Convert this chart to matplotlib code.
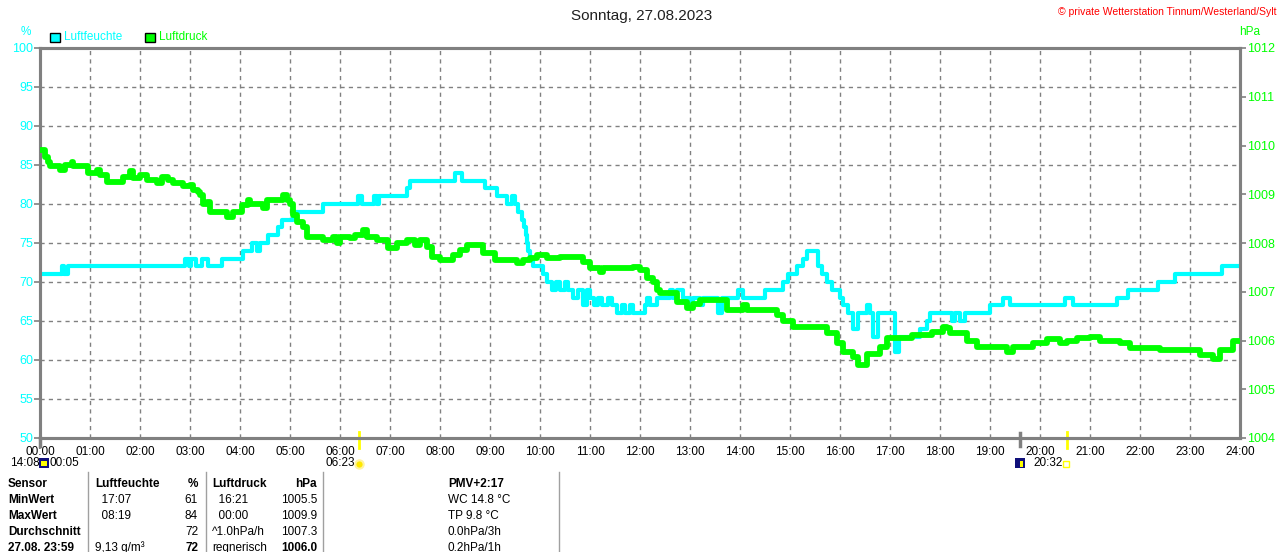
import matplotlib
matplotlib.use('Agg')
import matplotlib.pyplot as plt
import matplotlib.transforms as mtransforms
from matplotlib.patches import Rectangle

plt.rcParams['font.family'] = ['Liberation Sans', 'DejaVu Sans']

# Luftfeuchte: Stufen (Minute seit 00:00, Wert in %)
hum_min = [0, 26, 29, 34, 174, 179, 181, 187, 194, 202, 218, 244, 254, 260, 264, 274, 286, 290,
           304, 340, 382, 386, 401, 404, 407, 440, 444, 498, 506, 534, 548, 560, 566, 570, 574,
           578, 581, 583, 584, 586, 588, 592, 604, 608, 614, 619, 624, 630, 634, 640, 646, 652,
           656, 660, 665, 670, 674, 682, 686, 692, 698, 702, 708, 712, 726, 728, 732, 740, 756,
           760, 764, 772, 780, 784, 792, 796, 814, 818, 838, 844, 870, 892, 898, 908, 916, 920,
           934, 938, 944, 950, 960, 964, 970, 976, 982, 992, 996, 1000, 1006, 1026, 1031, 1056,
           1064, 1068, 1094, 1098, 1104, 1110, 1140, 1156, 1164, 1230, 1240, 1292, 1306, 1342,
           1362, 1418, 1440]
hum_val = [71, 72, 71, 72, 73, 72, 73, 72, 73, 72, 73, 74, 75, 74, 75, 76, 77, 78,
           79, 80, 81, 80, 81, 80, 81, 82, 83, 84, 83, 82, 81, 80, 81, 80, 79,
           78, 77, 76, 75, 74, 73, 72, 71, 70, 69, 70, 69, 70, 69, 68, 69, 67,
           69, 68, 67, 68, 67, 68, 67, 66, 67, 66, 67, 66, 67, 68, 67, 68, 69,
           68, 69, 68, 67, 68, 67, 68, 66, 68, 69, 68, 69, 70, 71, 72, 73, 74,
           72, 71, 70, 69, 68, 67, 66, 64, 66, 67, 66, 63, 66, 61, 63, 64,
           65, 66, 65, 66, 65, 66, 67, 68, 67, 68, 67, 68, 69, 70,
           71, 72, 72]

# Luftdruck (Minute seit 00:00, Wert in hPa)
pres_min = [0, 6, 10, 12, 24, 30, 38, 40, 58, 68, 72, 80, 100, 108, 112, 120, 128, 140, 146,
            154, 160, 172, 180, 184, 190, 192, 196, 200, 204, 224, 232, 242, 250, 252, 268,
            272, 292, 296, 300, 304, 308, 316, 320, 340, 352, 356, 360, 372, 378, 388, 392,
            404, 418, 428, 440, 450, 456, 464, 470, 480, 496, 504, 512, 532, 546, 572, 580,
            588, 596, 608, 624, 652, 660, 672, 676, 712, 720, 728, 736, 740, 744, 764, 776,
            784, 792, 824, 844, 848, 884, 892, 904, 944, 956, 964, 976, 982, 992, 1008, 1016,
            1046, 1070, 1084, 1088, 1092, 1112, 1124, 1160, 1168, 1192, 1208, 1224, 1232,
            1244, 1260, 1272, 1296, 1308, 1344, 1392, 1408, 1416, 1432, 1440]
pres_val = [1009.9, 1009.77, 1009.67, 1009.57, 1009.5, 1009.6, 1009.67, 1009.57, 1009.43,
            1009.5, 1009.4, 1009.26, 1009.36, 1009.47, 1009.33, 1009.4, 1009.3, 1009.23,
            1009.36, 1009.3, 1009.23, 1009.16, 1009.2, 1009.09, 1009.05, 1008.98, 1008.81,
            1008.85, 1008.64, 1008.54, 1008.64, 1008.78, 1008.88, 1008.8, 1008.71, 1008.88,
            1008.98, 1008.88, 1008.81, 1008.57, 1008.44, 1008.33, 1008.13, 1008.06, 1008.13,
            1007.99, 1008.13, 1008.1, 1008.16, 1008.26, 1008.13, 1008.06, 1007.89, 1008.0,
            1008.06, 1007.96, 1008.06, 1007.92, 1007.72, 1007.65, 1007.75, 1007.85, 1007.96,
            1007.79, 1007.65, 1007.58, 1007.65, 1007.69, 1007.75, 1007.69, 1007.72, 1007.62,
            1007.48, 1007.41, 1007.48, 1007.5, 1007.45, 1007.28, 1007.2, 1007.04, 1006.97,
            1006.8, 1006.66, 1006.75, 1006.83, 1006.63, 1006.73, 1006.63, 1006.52, 1006.39,
            1006.28, 1006.15, 1005.94, 1005.77, 1005.66, 1005.5, 1005.72, 1005.87, 1006.05,
            1006.11, 1006.18, 1006.28, 1006.25, 1006.15, 1005.98, 1005.87, 1005.77, 1005.87,
            1005.94, 1006.04, 1005.94, 1006.0, 1006.05, 1006.08, 1006.0, 1005.94, 1005.84,
            1005.8, 1005.7, 1005.63, 1005.8, 1006.0, 1006.0]

hour_labels = ['%02d:00' % h for h in range(25)]
hum_ticks = [50, 55, 60, 65, 70, 75, 80, 85, 90, 95, 100]
pres_ticks = [1004, 1005, 1006, 1007, 1008, 1009, 1010, 1011, 1012]

table_rows = [
    ['Sensor', 'MinWert', 'MaxWert', 'Durchschnitt', '27.08. 23:59'],
    ['Luftfeuchte', '  17:07', '  08:19', '', '9,13 g/m³'],
    ['%', '61', '84', '72', '72'],
    ['Luftdruck', '  16:21', '  00:00', '^1.0hPa/h', 'regnerisch'],
    ['hPa', '1005.5', '1009.9', '1007.3', '1006.0'],
    ['PMV+2:17', 'WC 14.8 °C', 'TP 9.8 °C', '0.0hPa/3h', '0.2hPa/1h'],
]

CYAN = '#00FFFF'
GREEN = '#00FF00'
GRAY = '#808080'
W, H = 1280, 552

fig = plt.figure(figsize=(W / 100, H / 100), dpi=100)
ax = fig.add_axes([40 / W, 1 - 438 / H, 1200 / W, 390 / H])
ax2 = ax.twinx()

ax.plot([m / 60 for m in hum_min], hum_val, color=CYAN, lw=3.0, drawstyle='steps-post',
        zorder=3, solid_capstyle='butt')
ax2.plot([m / 60 for m in pres_min], pres_val, color=GREEN, lw=4.2, drawstyle='steps-post',
         zorder=3, solid_capstyle='butt')

ax.set_xlim(0, 24)
ax.set_ylim(50, 100)
ax2.set_ylim(1004, 1012)
ax.set_xticks(range(25))
ax.set_xticklabels(hour_labels, fontsize=8.5, color='black')
ax.set_yticks(hum_ticks)
ax.set_yticklabels([str(v) for v in hum_ticks], fontsize=9, color=CYAN)
ax2.set_yticks(pres_ticks)
ax2.set_yticklabels([str(v) for v in pres_ticks], fontsize=9, color=GREEN)
ax.tick_params(axis='x', length=0, pad=6)
ax.tick_params(axis='y', length=4, width=1.2, color=GRAY, pad=1)
ax2.tick_params(axis='y', length=4, width=1.2, color=GRAY, pad=1)

ax.grid(True, color=GRAY, linestyle=(0, (3, 3)), lw=1)
ax.set_axisbelow(True)
for a in (ax, ax2):
    for s in a.spines.values():
        s.set_color(GRAY)
        s.set_linewidth(2.2)

# Markierungen an der Zeitachse
trans = mtransforms.blended_transform_factory(ax.transData, ax.transAxes)
ax.plot([0, 0], [0, -0.02], color=GRAY, lw=2.5, transform=trans, clip_on=False)
ax.plot([19.6, 19.6], [0.012, -0.02], color=GRAY, lw=2.5, transform=trans, clip_on=False)
ax.plot([6.383, 6.383], [0.015, -0.025], color='#FFFF00', lw=2, transform=trans, clip_on=False)
ax.plot([20.533, 20.533], [0.015, -0.025], color='#FFFF00', lw=2, transform=trans, clip_on=False)

def fx(x):
    return x / W

def fy(y):
    return 1 - y / H

# Titel und Beschriftungen
fig.text(fx(642), fy(16), 'Sonntag, 27.08.2023', ha='center', va='center', fontsize=11, color='#202020')
fig.text(fx(1277), fy(12), '© private Wetterstation Tinnum/Westerland/Sylt', ha='right', va='center',
         fontsize=7.5, color='#FF0000')
fig.text(fx(26), fy(32), '%', ha='center', va='center', fontsize=8.5, color=CYAN)
fig.text(fx(1250), fy(32), 'hPa', ha='center', va='center', fontsize=8.5, color=GREEN)

# Legende
fig.patches.append(Rectangle((fx(50), fy(42)), 10 / W, 9 / H, transform=fig.transFigure,
                             facecolor=CYAN, edgecolor='black', lw=1))
fig.text(fx(64), fy(37.5), 'Luftfeuchte', va='center', fontsize=8.5, color=CYAN)
fig.patches.append(Rectangle((fx(145), fy(42)), 10 / W, 9 / H, transform=fig.transFigure,
                             facecolor=GREEN, edgecolor='black', lw=1))
fig.text(fx(159), fy(37.5), 'Luftdruck', va='center', fontsize=8.5, color=GREEN)

# Mond / Sonne
fig.text(fx(10), fy(463), '14:08', va='center', fontsize=8.5)
fig.patches.append(Rectangle((fx(39), fy(468)), 10 / W, 10 / H, transform=fig.transFigure,
                             facecolor='#10107A', edgecolor='none'))
fig.patches.append(Rectangle((fx(41), fy(466)), 6 / W, 5 / H, transform=fig.transFigure,
                             facecolor='#FFFF00', edgecolor='none'))
fig.text(fx(50), fy(463), '00:05', va='center', fontsize=8.5)
fig.text(fx(325), fy(463), '06:23', va='center', fontsize=8.5)
fig.add_artist(plt.Line2D([fx(359)], [fy(464)], marker='o', markersize=6, color='#FFE800',
                          markeredgecolor='#FFF4A0', markeredgewidth=1.5))
fig.patches.append(Rectangle((fx(1015), fy(468)), 10 / W, 10 / H, transform=fig.transFigure,
                             facecolor='#10107A', edgecolor='none'))
fig.patches.append(Rectangle((fx(1020), fy(467)), 3 / W, 6 / H, transform=fig.transFigure,
                             facecolor='#FFFF00', edgecolor='none'))
fig.text(fx(1033), fy(463), '20:32', va='center', fontsize=8.5)
fig.patches.append(Rectangle((fx(1063), fy(467)), 6 / W, 6 / H, transform=fig.transFigure,
                             facecolor='none', edgecolor='#FFFF00', lw=1))

# Tabelle
row_y = [484, 500, 516, 532, 548]
for xs in (88, 206, 323, 559):
    fig.add_artist(plt.Line2D([fx(xs), fx(xs)], [fy(472), fy(552)], color='#A0A0A0', lw=1))

for i, y in enumerate(row_y):
    fig.text(fx(8), fy(y), table_rows[0][i], va='center', fontsize=8.5, weight='bold')
    w = 'bold' if i == 0 else 'normal'
    wl = 'bold' if i in (0, 4) else 'normal'
    fig.text(fx(95), fy(y), table_rows[1][i], va='center', fontsize=8.5, weight=w)
    fig.text(fx(198), fy(y), table_rows[2][i], va='center', ha='right', fontsize=8.5, weight=wl)
    fig.text(fx(212), fy(y), table_rows[3][i], va='center', fontsize=8.5, weight=w)
    fig.text(fx(317), fy(y), table_rows[4][i], va='center', ha='right', fontsize=8.5, weight=wl)
    fig.text(fx(448), fy(y), table_rows[5][i], va='center', fontsize=8.5, weight=w)

fig.savefig('out.png', dpi=100, facecolor='white')
